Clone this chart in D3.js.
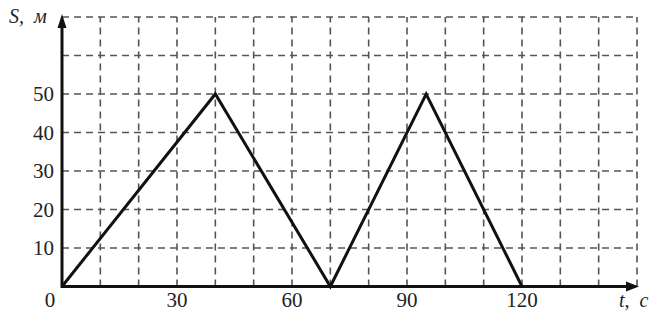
<!DOCTYPE html>
<html>
<head>
<meta charset="utf-8">
<script src="https://cdn.jsdelivr.net/npm/d3@7"></script>
<style>
  body { margin: 0; background: #fff; }
</style>
</head>
<body>
<div id="chart"></div>
<script>
// path points: time (s) and distance (m)
const times = [0, 40, 70, 95, 120];
const distances = [0, 50, 0, 50, 0];
const xTicks = [30, 60, 90, 120];
const yTicks = [10, 20, 30, 40, 50];
const gridX = d3.range(10, 151, 10);
const gridY = d3.range(10, 71, 10);

const width = 666;
const height = 313;
const font = 'Liberation Serif';

const x = d3.scaleLinear().domain([0, 150]).range([62, 637]);
const y = d3.scaleLinear().domain([0, 70]).range([286.5, 17]);

const svg = d3.select('#chart').append('svg')
  .attr('width', width)
  .attr('height', height);

// dashed grid
svg.append('g')
  .selectAll('line')
  .data(gridX)
  .enter().append('line')
  .attr('x1', d => x(d)).attr('x2', d => x(d))
  .attr('y1', y(0)).attr('y2', y(70))
  .attr('stroke', '#555')
  .attr('stroke-width', 1.6)
  .attr('stroke-dasharray', '7,5');

svg.append('g')
  .selectAll('line')
  .data(gridY)
  .enter().append('line')
  .attr('x1', x(0)).attr('x2', x(150))
  .attr('y1', d => y(d)).attr('y2', d => y(d))
  .attr('stroke', '#555')
  .attr('stroke-width', 1.6)
  .attr('stroke-dasharray', '7,5');

// axes
svg.append('line')
  .attr('x1', x(0)).attr('x2', x(150) - 6)
  .attr('y1', y(0)).attr('y2', y(0))
  .attr('stroke', '#111')
  .attr('stroke-width', 3);

svg.append('line')
  .attr('x1', x(0)).attr('x2', x(0))
  .attr('y1', y(0) + 1.5).attr('y2', y(70) + 8)
  .attr('stroke', '#111')
  .attr('stroke-width', 3);

// arrow heads
const xEnd = x(150) + 2;
svg.append('path')
  .attr('d', `M${xEnd},${y(0)} L${xEnd - 13},${y(0) - 5} L${xEnd - 13},${y(0) + 5} Z`)
  .attr('fill', '#111');

const yEnd = y(70) - 3;
svg.append('path')
  .attr('d', `M${x(0)},${yEnd} L${x(0) - 4.5},${yEnd + 14} L${x(0) + 4.5},${yEnd + 14} Z`)
  .attr('fill', '#111');

// tick labels
svg.append('g')
  .selectAll('text')
  .data(xTicks)
  .enter().append('text')
  .attr('x', d => x(d))
  .attr('y', 307)
  .attr('text-anchor', 'middle')
  .style('font-family', font)
  .attr('font-size', 21)
  .attr('fill', '#222')
  .text(d => d);

svg.append('g')
  .selectAll('text')
  .data(yTicks)
  .enter().append('text')
  .attr('x', 54)
  .attr('y', d => y(d) + 7)
  .attr('text-anchor', 'end')
  .style('font-family', font)
  .attr('font-size', 21)
  .attr('fill', '#222')
  .text(d => d);

svg.append('text')
  .attr('x', 50).attr('y', 307)
  .attr('text-anchor', 'middle')
  .style('font-family', font)
  .attr('font-size', 21)
  .attr('fill', '#222')
  .text('0');

svg.append('text')
  .attr('x', 9).attr('y', 23)
  .style('font-family', font)
  .attr('font-size', 20)
  .attr('font-style', 'italic')
  .attr('fill', '#222')
  .attr('xml:space', 'preserve')
  .text('S,  м');

svg.append('text')
  .attr('x', 619).attr('y', 307)
  .style('font-family', font)
  .attr('font-size', 20)
  .attr('font-style', 'italic')
  .attr('fill', '#222')
  .attr('xml:space', 'preserve')
  .text('t,  c');

// distance line
const line = d3.line()
  .x((d, i) => x(times[i]))
  .y(d => y(d));

svg.append('path')
  .datum(distances)
  .attr('d', line)
  .attr('fill', 'none')
  .attr('stroke', '#111')
  .attr('stroke-width', 3)
  .attr('stroke-linejoin', 'miter');
</script>
</body>
</html>
